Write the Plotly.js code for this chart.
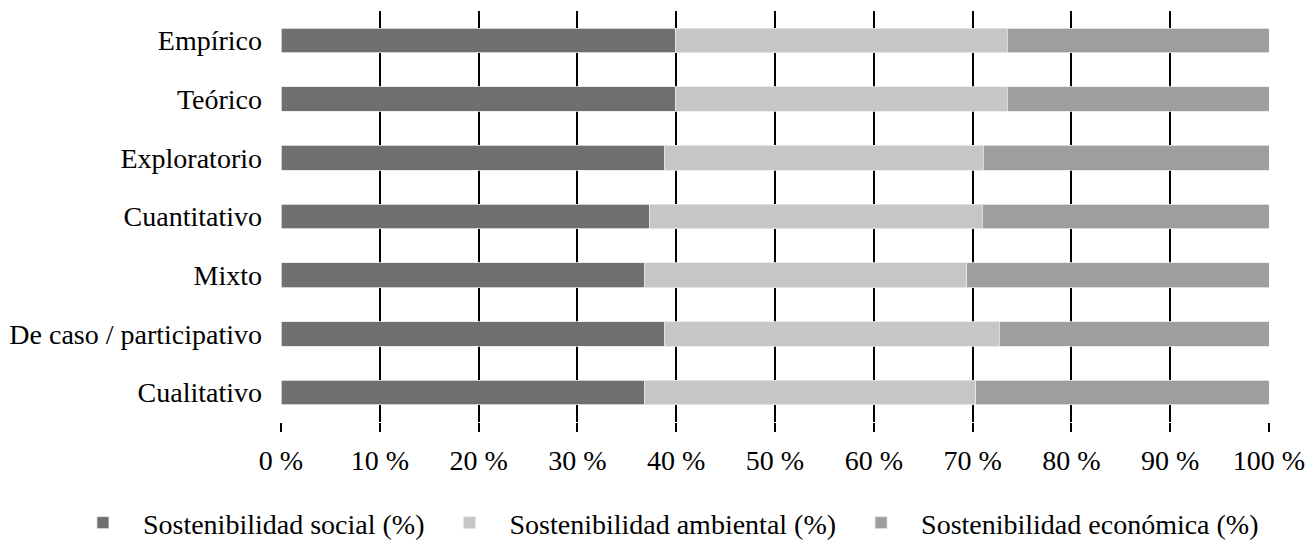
<!DOCTYPE html>
<html>
<head>
<meta charset="utf-8">
<script src="https://cdn.plot.ly/plotly-3.0.1.min.js"></script>
<style>html,body{margin:0;padding:0;background:#fff;}#chart{width:1315px;height:540px;}</style>
</head>
<body>
<div id="chart"></div>
<script>
var categories = ["Empírico", "Teórico", "Exploratorio", "Cuantitativo", "Mixto", "De caso / participativo", "Cualitativo"];
var seriesNames = ["Sostenibilidad social (%)", "Sostenibilidad ambiental (%)", "Sostenibilidad económica (%)"];
var social = [39.9, 39.9, 38.8, 37.3, 36.8, 38.8, 36.8];
var ambiental = [33.6, 33.6, 32.3, 33.7, 32.6, 33.9, 33.5];
var economica = [26.5, 26.5, 28.9, 29.0, 30.6, 27.3, 29.7];
var tickVals = [0, 10, 20, 30, 40, 50, 60, 70, 80, 90, 100];
var tickText = ["0 %", "10 %", "20 %", "30 %", "40 %", "50 %", "60 %", "70 %", "80 %", "90 %", "100 %"];

var colors = ["#6f6f6f", "#c6c6c6", "#9e9e9e"];
var values = [social, ambiental, economica];

var traces = values.map(function (v, i) {
  return {
    type: "bar",
    orientation: "h",
    name: seriesNames[i],
    y: categories,
    x: v,
    marker: { color: colors[i], line: { color: "#e8e8e8", width: 0.8 } },
    hoverinfo: "x+y+name"
  };
});

var font = { family: "Liberation Serif, Times New Roman, serif", size: 28, color: "#000" };

var layout = {
  width: 1315,
  height: 540,
  margin: { l: 281, r: 46, t: 11, b: 118, autoexpand: false },
  paper_bgcolor: "#fff",
  plot_bgcolor: "#fff",
  barmode: "stack",
  bargap: 0.58,
  font: font,
  showlegend: true,
  legend: {
    orientation: "h",
    x: -0.2207,
    xanchor: "left",
    y: -0.2457,
    yanchor: "middle",
    font: font,
    itemwidth: 70,
    traceorder: "normal"
  },
  xaxis: {
    range: [0, 100],
    tickvals: tickVals,
    ticktext: tickText,
    tickangle: 0,
    automargin: false,
    showgrid: true,
    gridcolor: "#000",
    gridwidth: 2,
    zeroline: false,
    showline: false,
    ticks: "outside",
    ticklen: 9,
    tickwidth: 2,
    tickcolor: "#000",
    ticklabelstandoff: 4,
    tickfont: font,
    fixedrange: true
  },
  yaxis: {
    autorange: "reversed",
    type: "category",
    automargin: false,
    showgrid: false,
    zeroline: false,
    showline: false,
    ticks: "",
    ticklabelstandoff: 18,
    tickfont: font,
    fixedrange: true
  }
};

Plotly.newPlot("chart", traces, layout, { displayModeBar: false, staticPlot: true });
</script>
</body>
</html>
